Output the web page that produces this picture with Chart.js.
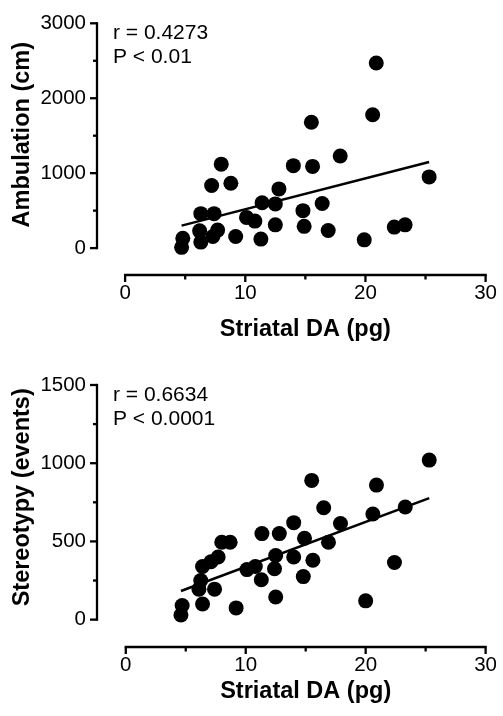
<!DOCTYPE html>
<html><head><meta charset="utf-8">
<script src="https://cdn.jsdelivr.net/npm/chart.js@4/dist/chart.umd.min.js"></script>
<style>
html,body{margin:0;padding:0;background:#fff;width:503px;height:716px;overflow:hidden}
.c{position:absolute;left:0;width:503px;height:358px}
</style></head><body>
<div class="c" style="top:0"><canvas id="c1" width="503" height="358"></canvas></div>
<div class="c" style="top:358px"><canvas id="c2" width="503" height="358"></canvas></div>
<script>
// ---- data: top panel (Ambulation) ----
const ambDA = [4.7, 4.8, 6.2, 6.3, 6.3, 7.2, 7.4, 7.3, 7.7, 8.0, 8.8, 9.2, 10.1, 10.8, 11.3, 11.4, 12.5, 12.8, 12.5, 14.0, 14.8, 14.9, 15.5, 15.6, 16.4, 16.9, 17.9, 19.9, 20.6, 20.9, 22.4, 23.3, 25.3];
const ambCm = [10, 130, 230, 460, 80, 835, 460, 155, 240, 1120, 865, 155, 410, 360, 120, 605, 590, 790, 310, 1100, 500, 290, 1680, 1090, 595, 235, 1230, 110, 1780, 2470, 280, 310, 950];
const ambFitX = [4.7, 25.3];
const ambFitY = [300, 1150];
const ambTicks = [0, 500, 1000, 1500, 2000, 2500, 3000];
const ambLabels = [0, 1000, 2000, 3000];
const ambNotes = ["r = 0.4273", "P < 0.01"];

// ---- data: bottom panel (Stereotypy) ----
const stDA = [4.6, 4.7, 6.4, 6.1, 7.4, 6.25, 6.4, 7.1, 7.7, 8.0, 8.7, 9.2, 10.1, 10.8, 11.35, 11.3, 12.5, 12.4, 12.5, 12.8, 14.0, 14.0, 14.8, 14.9, 15.5, 15.6, 16.5, 16.9, 17.9, 20.0, 20.6, 20.9, 22.4, 23.3, 25.3];
const stEv = [30, 90, 100, 195, 195, 250, 340, 370, 400, 495, 495, 75, 320, 340, 550, 255, 145, 325, 410, 550, 400, 620, 275, 520, 890, 380, 715, 495, 615, 120, 675, 860, 365, 720, 1020];
const stFitX = [4.6, 25.3];
const stFitY = [183, 777];
const stTicks = [0, 250, 500, 750, 1000, 1250, 1500];
const stLabels = [0, 500, 1000, 1500];
const stNotes = ["r = 0.6634", "P < 0.0001"];

// ---- shared x axis ----
const xTicks = [0, 5, 10, 15, 20, 25, 30];
const xLabels = [0, 10, 20, 30];
const xTitle = "Striatal DA (pg)";

const FONT = '"Liberation Sans", Arial, Helvetica, sans-serif';

const deco = {
  id: 'deco',
  beforeDatasetsDraw(chart, args, o) {
    const ctx = chart.ctx, xs = chart.scales.x, ys = chart.scales.y, ca = chart.chartArea;
    const ax = ca.left, ay = ca.bottom;
    ctx.save();
    ctx.strokeStyle = '#000'; ctx.lineWidth = 2.3; ctx.lineCap = 'butt';
    const y0 = ys.getPixelForValue(o.yTicks[0]), y1 = ys.getPixelForValue(o.yTicks[o.yTicks.length - 1]);
    ctx.beginPath(); ctx.moveTo(ax, y0 + 1.15); ctx.lineTo(ax, y1 - 1.15); ctx.stroke();
    o.yTicks.forEach(v => {
      const p = ys.getPixelForValue(v), len = o.yMajor.includes(v) ? 7 : 4;
      ctx.beginPath(); ctx.moveTo(ax, p); ctx.lineTo(ax - len, p); ctx.stroke();
    });
    const x0 = xs.getPixelForValue(xTicks[0]), x1 = xs.getPixelForValue(xTicks[xTicks.length - 1]);
    ctx.beginPath(); ctx.moveTo(x0 - 1.15, ay); ctx.lineTo(x1 + 1.15, ay); ctx.stroke();
    xTicks.forEach(v => {
      const p = xs.getPixelForValue(v), len = xLabels.includes(v) ? 7 : 4.5;
      ctx.beginPath(); ctx.moveTo(p, ay); ctx.lineTo(p, ay + len); ctx.stroke();
    });
    ctx.fillStyle = '#000';
    ctx.font = 'bold 23.5px ' + FONT;
    ctx.textAlign = 'center'; ctx.textBaseline = 'middle';
    ctx.save(); ctx.translate(o.yTitleX, (y0 + y1) / 2 + o.yTitleShift); ctx.rotate(-Math.PI / 2);
    ctx.fillText(o.yTitle, 0, 0); ctx.restore();
    ctx.fillText(xTitle, (x0 + x1) / 2, o.xTitleY);
    ctx.font = '21px ' + FONT;
    ctx.textAlign = 'left'; ctx.textBaseline = 'alphabetic';
    o.notes.forEach((t, i) => ctx.fillText(t, ax + 16, ca.top + 16 + 24 * i));
    ctx.restore();
  }
};

function makeChart(id, xs, ys, fx, fy, yTicks, yLabels, yMin, yMax, xMin, area, yTitle, yTitleShift, notes, xTitleY) {
  const pts = xs.map((v, i) => ({ x: v, y: ys[i] }));
  const fit = fx.map((v, i) => ({ x: v, y: fy[i] }));
  return new Chart(document.getElementById(id), {
    type: 'scatter',
    data: {
      datasets: [
        { data: fit, showLine: true, pointRadius: 0, borderColor: '#000', borderWidth: 2.5, clip: false, order: 1 },
        { data: pts, pointRadius: 7.5, pointHoverRadius: 7.5, backgroundColor: '#000', borderColor: '#000', pointBorderWidth: 0, borderWidth: 0, clip: false, order: 0 }
      ]
    },
    options: {
      responsive: false, devicePixelRatio: 1, animation: false,
      layout: { padding: { left: 0, top: area.top, right: 503 - area.right, bottom: 0 } },
      plugins: {
        legend: { display: false }, tooltip: { enabled: false },
        deco: { yTicks, yMajor: yLabels, yTitle, yTitleShift, notes, yTitleX: 23, xTitleY }
      },
      scales: {
        x: {
          type: 'linear', min: xMin, max: 30,
          afterBuildTicks: s => { s.ticks = xLabels.map(v => ({ value: v })); },
          afterFit: s => { s.height = 358 - area.bottom; },
          grid: { display: false, drawTicks: false },
          border: { display: false },
          ticks: { color: '#000', font: { family: FONT, size: 20.5 }, padding: 6, maxRotation: 0, callback: v => String(v) }
        },
        y: {
          type: 'linear', min: yMin, max: yMax,
          afterBuildTicks: s => { s.ticks = yLabels.map(v => ({ value: v })); },
          afterFit: s => { s.width = area.left; },
          grid: { display: false, drawTicks: false },
          border: { display: false },
          ticks: { color: '#000', font: { family: FONT, size: 20.5 }, padding: 11, callback: v => String(v) }
        }
      }
    },
    plugins: [deco]
  });
}

makeChart('c1', ambDA, ambCm, ambFitX, ambFitY, ambTicks, ambLabels, -359, 3000, -2.34,
  { left: 97, top: 16, right: 488, bottom: 275 }, "Ambulation (cm)", -1, ambNotes, 330);
makeChart('c2', stDA, stEv, stFitX, stFitY, stTicks, stLabels, -175, 1500, -2.4,
  { left: 97, top: 27, right: 489, bottom: 289 }, "Stereotypy (events)", -5, stNotes, 333.5);
</script>
</body></html>
